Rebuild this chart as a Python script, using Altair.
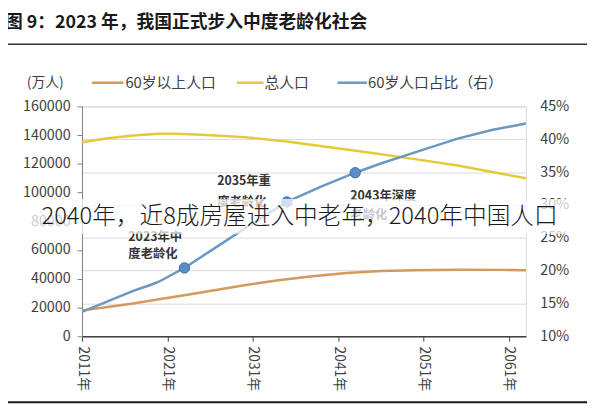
import altair as alt
import pandas as pd

# ---- data ----
total_years = [2011, 2014, 2017, 2020, 2022, 2025, 2030, 2035, 2040, 2045, 2050, 2055, 2060, 2063]
total_pop = [135000, 137800, 139800, 141000, 141000, 140300, 138600, 135600, 131600, 127600, 123300, 118800, 113300, 110000]

old_years = [2011, 2014, 2017, 2020, 2023, 2026, 2030, 2034, 2038, 2042, 2046, 2050, 2055, 2060, 2063]
old_pop = [18000, 20300, 22800, 25700, 28500, 31500, 35500, 39000, 41800, 44000, 45400, 46000, 46300, 46200, 46000]

share_years = [2011, 2014, 2017, 2019, 2020, 2023, 2027, 2031, 2035, 2039, 2043, 2046, 2050, 2055, 2059, 2063]
share = [0.137, 0.153, 0.169, 0.178, 0.183, 0.204, 0.238, 0.272, 0.3045, 0.328, 0.349, 0.363, 0.380, 0.401, 0.414, 0.424]

marker_years = [2023, 2035, 2043]
marker_share = [0.204, 0.3045, 0.349]

tick_years = [2011, 2021, 2031, 2041, 2051, 2061]
left_ticks = [0, 20000, 40000, 60000, 80000, 100000, 120000, 140000, 160000]
right_ticks = [0.10, 0.15, 0.20, 0.25, 0.30, 0.35, 0.40, 0.45]

series_names = ["60岁以上人口", "总人口", "60岁人口占比（右）"]
title_text = "图 9：2023 年，我国正式步入中度老龄化社会"
overlay_text = "2040年，近8成房屋进入中老年，2040年中国人口"

ORANGE = "#D39A5C"
YELLOW = "#E4C93A"
BLUE = "#6A98C0"
FONT = "Noto Sans CJK SC"

df_left = pd.concat([
    pd.DataFrame({"year": old_years, "value": old_pop, "series": series_names[0]}),
    pd.DataFrame({"year": total_years, "value": total_pop, "series": series_names[1]}),
])
df_share = pd.DataFrame({"year": share_years, "share": share})
df_mark = pd.DataFrame({"year": marker_years, "share": marker_share})

x_enc = alt.X(
    "year:Q",
    scale=alt.Scale(domain=[2011, 2063], nice=False, zero=False),
    axis=alt.Axis(
        values=tick_years, labelExpr="datum.value + '年'", labelAngle=90,
        title=None, grid=False, domainColor="#404040", domainWidth=1.5,
        tickColor="#404040", tickSize=5, labelPadding=5, labelFontSize=14,
        labelColor="#404040", labelFont=FONT, zindex=0,
    ),
)

left = alt.Chart(df_left).mark_line(strokeWidth=2.5).encode(
    x=x_enc,
    y=alt.Y(
        "value:Q",
        scale=alt.Scale(domain=[0, 160000], nice=False),
        axis=alt.Axis(
            orient="left", values=left_ticks, format="d", title=None, grid=False,
            domainColor="#7f7f7f", tickColor="#7f7f7f", tickSize=5, labelPadding=7,
            labelFontSize=14.5, labelColor="#404040", labelFont=FONT, zindex=0,
        ),
    ),
    color=alt.Color("series:N", scale=alt.Scale(domain=series_names[:2], range=[ORANGE, YELLOW]), legend=None),
)

right_scale = alt.Scale(domain=[0.10, 0.45], nice=False, zero=False)

blue_line = alt.Chart(df_share).mark_line(strokeWidth=2.5, color=BLUE).encode(
    x=x_enc,
    y=alt.Y(
        "share:Q",
        scale=right_scale,
        axis=alt.Axis(
            orient="right", values=right_ticks, format=".0%", title=None, grid=True,
            gridColor="#d9d9d9", gridWidth=1, domain=False, ticks=False, labelPadding=14,
            labelFontSize=14.5, labelColor="#404040", labelFont=FONT, zindex=0,
        ),
    ),
)

markers = alt.Chart(df_mark).mark_point(
    filled=True, size=110, color="#5B8DC8", stroke="#3D6EA6", strokeWidth=1, opacity=1
).encode(x=x_enc, y=alt.Y("share:Q", scale=right_scale, axis=None))


def label(text, x, y, size=12, weight="bold", color="#333333", align="left"):
    return alt.Chart(pd.DataFrame({"t": [text]})).mark_text(
        align=align, baseline="middle", fontSize=size, fontWeight=weight,
        color=color, font=FONT,
    ).encode(x=alt.value(x), y=alt.value(y), text="t:N")


def rule(x1, x2, y, color, width):
    return alt.Chart(pd.DataFrame({"a": [0]})).mark_rule(color=color, strokeWidth=width).encode(
        x=alt.value(x1), x2=alt.value(x2), y=alt.value(y)
    )


annotations = [
    label("2023年中", 47, 132, size=12.5), label("度老龄化", 47, 150, size=12.5),
    label("2035年重", 137, 76, size=12.5), label("度老龄化", 137, 97, size=12.5),
    label("2043年深度", 272, 91, size=12.5), label("老龄化", 272, 110, size=12.5),
]

decor = [
    label(title_text, -78, -84, size=18, weight="bold", color="#1a1a1a"),
    rule(-78, 512, -63, "#333333", 1.5),
    label("(万人)", -56, -24, size=14, weight="normal", color="#404040"),
    rule(10, 42, -24, ORANGE, 2.5),
    label(series_names[0], 44, -24, size=15, weight="normal", color="#404040"),
    rule(157, 184, -24, YELLOW, 2.5),
    label(series_names[1], 185, -24, size=15, weight="normal", color="#404040"),
    rule(259, 289, -24, BLUE, 2.5),
    label(series_names[2], 290, -24, size=15, weight="normal", color="#404040"),
    rule(-78, 512, 300, "#1a1a1a", 2),
]

band = alt.Chart(pd.DataFrame({"a": [0]})).mark_rect(color="white", opacity=0.72).encode(
    x=alt.value(-83), x2=alt.value(517), y=alt.value(94), y2=alt.value(129)
)
overlay = label(overlay_text, -41, 112, size=24, weight=300, color="#1a1a1a")

chart = alt.layer(
    left, blue_line, markers, *annotations, *decor, band, overlay
).resolve_scale(y="independent").properties(
    width=450, height=233,
    autosize=alt.AutoSizeParams(type="none"),
    padding={"left": 75, "top": 97, "right": 67, "bottom": 70},
).configure_view(stroke="#d9d9d9", strokeWidth=1)

chart.save("out.html", embed_options={"renderer": "svg", "actions": False})
